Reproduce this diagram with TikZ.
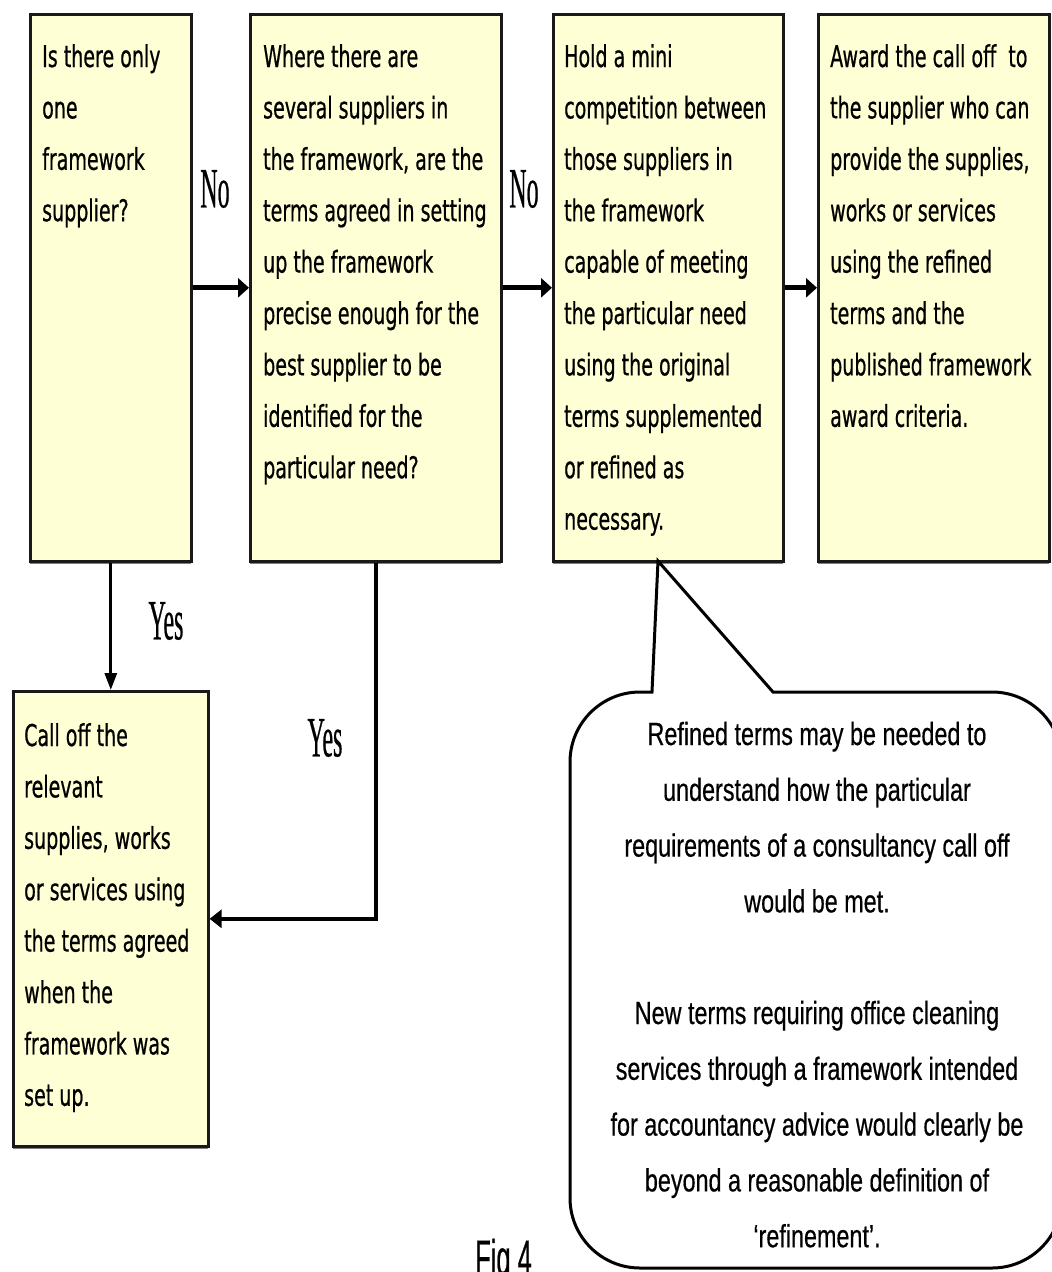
\documentclass[tikz,border=0pt]{standalone}
\usepackage{fontspec}
\usetikzlibrary{arrows.meta,shadows}

% Condensed faces used throughout the chart
\newfontfamily\boxfont[FakeStretch=0.635,FakeBold=0.6]{DejaVu Sans}
\newfontfamily\notefont[FakeStretch=0.73,FakeBold=0.5]{Liberation Sans}
\newfontfamily\labelfont[FakeStretch=0.42,FakeBold=0.4]{Liberation Serif}
\newfontfamily\figfont[FakeStretch=0.51,FakeBold=0.4]{Liberation Sans}

\definecolor{boxfill}{RGB}{255,255,213}

\begin{document}
\begin{tikzpicture}[x=1pt,y=-1pt,
  box/.style={draw=black!90, line width=2.6pt, fill=boxfill, inner sep=0pt,
    anchor=north west,
    drop shadow={shadow xshift=0pt, shadow yshift=-3pt, fill=black!50, opacity=1}},
  boxtext/.style={inner sep=0pt, anchor=base west,
    font=\boxfont\fontsize{30}{51.4}\selectfont},
  notetext/.style={inner sep=0pt, anchor=base,
    font=\notefont\fontsize{32}{55.8}\selectfont},
  answer/.style={inner sep=0pt, font=\labelfont\fontsize{57}{60}\selectfont},
  figlabel/.style={inner sep=0pt, anchor=base west,
    font=\figfont\fontsize{50}{55}\selectfont},
  flow/.style={line width=5pt, -{Triangle[length=11pt,width=19pt]}},
  down/.style={line width=3pt, -{Triangle[length=17pt,width=12pt]}},
  back/.style={line width=4.5pt, -{Triangle[length=12pt,width=18pt]}},
  callout/.style={draw=black, line width=3pt, fill=white}]

\useasboundingbox (0,0) rectangle (1052,1272);
\clip (0,0) rectangle (1052,1272);

% decision and action boxes
\node[box, minimum width=161pt, minimum height=547pt] (q1) at (29,13) {};
\node[box, minimum width=251pt, minimum height=547pt] (q2) at (249,13) {};
\node[box, minimum width=230pt, minimum height=547pt] (q3) at (552,13) {};
\node[box, minimum width=231pt, minimum height=547pt] (q4) at (817,13) {};
\node[box, minimum width=195pt, minimum height=455pt] (q5) at (12,690) {};

\node[boxtext] (t1) at (42,67) {\parbox[t]{145pt}{\raggedright
  Is there only\\one\\framework\\supplier?}};
\node[boxtext] (t2) at (263,67) {\parbox[t]{232pt}{\raggedright
  Where there are\\several suppliers in\\the framework, are the\\terms agreed in setting\\
  up the framework\\precise enough for the\\best supplier to be\\identified for the\\particular need?}};
\node[boxtext] (t3) at (564,67) {\parbox[t]{214pt}{\raggedright
  Hold a mini\\competition between\\those suppliers in\\the framework\\capable of meeting\\
  the particular need\\using the original\\terms supplemented\\or refined as\\necessary.}};
\node[boxtext] (t4) at (830,67) {\parbox[t]{216pt}{\raggedright
  Award the call off~ to\\the supplier who can\\provide the supplies,\\works or services\\
  using the refined\\terms and the\\published framework\\award criteria.}};
\node[boxtext] (t5) at (24,746) {\parbox[t]{180pt}{\raggedright
  Call off the\\relevant\\supplies, works\\or services using\\the terms agreed\\
  when the\\framework was\\set up.}};

% connectors
\draw[flow] (q1) -- (q2);
\draw[flow] (q2) -- (q3);
\draw[flow] (q3) -- (q4);
\draw[down] (q1.south) -- (q1.south |- q5.north);
\draw[back] (q2.south) |- (q5.east);

\node[answer] (no1) at (215,189) {No};
\node[answer] (no2) at (524,189) {No};
\node[answer] (yes1) at (166,621) {Yes};
\node[answer] (yes2) at (325,738) {Yes};

% speech bubble pointing at the mini competition box (y axis runs downwards)
\coordinate (tip) at (658,561);
\draw[callout] (773,692) -- (992,692) arc[start angle=270, end angle=360, radius=70]
  -- (1062,1198) arc[start angle=0, end angle=90, radius=70]
  -- (640,1268) arc[start angle=90, end angle=180, radius=70]
  -- (570,762) arc[start angle=180, end angle=270, radius=70]
  -- (652,692) -- (tip) -- cycle;

\node[notetext] (note) at (817,745) {\parbox[t]{470pt}{\centering
  Refined terms may be needed to\\understand how the particular\\
  requirements of a consultancy call off\\would be met.\\[55.8pt]
  New terms requiring office cleaning\\services through a framework intended\\
  for accountancy advice would clearly be\\beyond a reasonable definition of\\
  ‘refinement’.}};

\node[figlabel] (fig) at (475,1275) {Fig 4};

\end{tikzpicture}
\end{document}
